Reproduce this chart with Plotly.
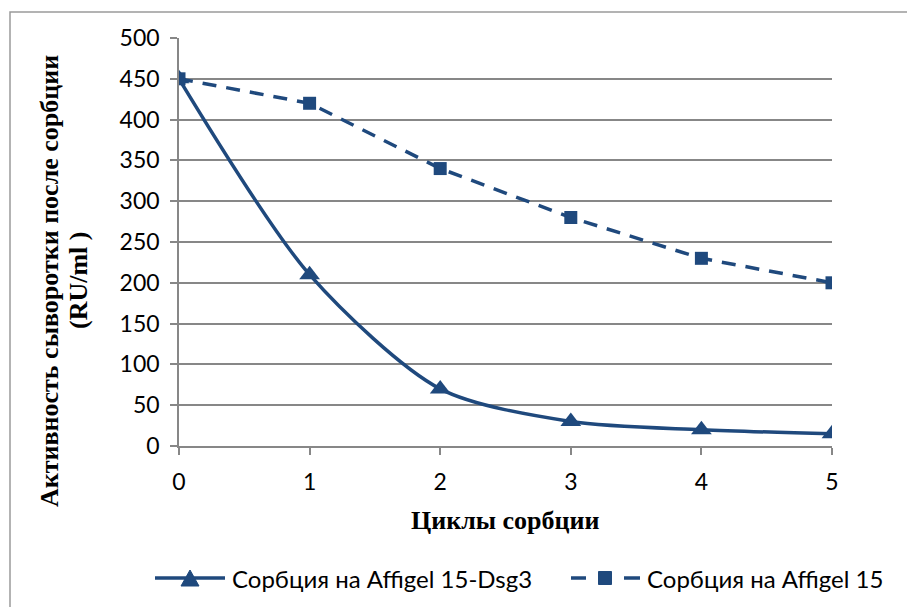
import plotly.graph_objects as go

# Sorption cycles and serum activity (RU/ml) after each cycle
cycles = [0, 1, 2, 3, 4, 5]
dsg3_values = [450, 210, 70, 30, 20, 15]
affigel_values = [450, 420, 340, 280, 230, 200]
y_ticks = [0, 50, 100, 150, 200, 250, 300, 350, 400, 450, 500]

series_names = ["Сорбция на Affigel 15-Dsg3", "Сорбция на Affigel 15"]
x_title = "Циклы сорбции"
y_title_lines = ["Активность сыворотки после сорбции", "(RU/ml )"]

line_color = "#1F497D"
grid_color = "#878787"
tick_font = dict(family="Lato, Open Sans, sans-serif", size=23, color="#000000")
legend_font = dict(family="Lato, Open Sans, sans-serif", size=24, color="#000000")
title_font = dict(family="Liberation Serif, Times New Roman, serif", size=26, color="#000000")

W, H = 907, 607
L, R, T, B = 179, 75, 38, 161
pw, ph = W - L - R, H - T - B

fig = go.Figure()
fig.add_trace(go.Scatter(
    x=cycles, y=dsg3_values, name=series_names[0], mode="lines+markers",
    line=dict(color=line_color, width=3.5, shape="spline", smoothing=0.8),
    marker=dict(symbol="triangle-up", size=18, color=line_color),
))
fig.add_trace(go.Scatter(
    x=cycles, y=affigel_values, name=series_names[1], mode="lines+markers",
    line=dict(color=line_color, width=3.5, dash="14px,10px"),
    marker=dict(symbol="square", size=13, color=line_color),
))

def px_x(p):
    return (p - L) / pw

def px_y(p):
    return (T + ph - p) / ph

# Outer chart border
fig.add_shape(type="rect", xref="paper", yref="paper",
              x0=px_x(10), x1=px_x(W + 20), y0=px_y(H + 20), y1=px_y(12),
              line=dict(color="#9a9a9a", width=1.5), fillcolor="rgba(0,0,0,0)", layer="below")

# Two-line vertical axis title
for text, xc in zip(y_title_lines, [49, 78]):
    fig.add_annotation(text=f"<b>{text}</b>", xref="paper", yref="paper",
                       x=px_x(xc), y=px_y(281), textangle=-90, showarrow=False,
                       font=title_font, xanchor="center", yanchor="middle")

fig.add_annotation(text=f"<b>{x_title}</b>", xref="paper", yref="paper",
                   x=px_x(506), y=px_y(520), showarrow=False, font=title_font,
                   xanchor="center", yanchor="middle")

# Legend drawn below the axis: line sample, marker glyph and label for each series
ly = 578

def seg(x0, x1, dash="solid"):
    fig.add_shape(type="line", xref="paper", yref="paper",
                  x0=px_x(x0), x1=px_x(x1), y0=px_y(ly), y1=px_y(ly),
                  line=dict(color=line_color, width=3.5, dash=dash))

# solid series sample with triangle
seg(155, 225)
tx, tw, th = 190, 18, 16
fig.add_shape(type="path", xref="paper", yref="paper",
              path=(f"M {px_x(tx - tw / 2)} {px_y(ly + th / 2)} "
                    f"L {px_x(tx + tw / 2)} {px_y(ly + th / 2)} "
                    f"L {px_x(tx)} {px_y(ly - th / 2)} Z"),
              fillcolor=line_color, line=dict(color=line_color, width=1))
fig.add_annotation(text=series_names[0], xref="paper", yref="paper",
                   x=px_x(230), y=px_y(ly), xanchor="left", yanchor="middle",
                   showarrow=False, font=legend_font)

# dashed series sample with square
seg(571, 586)
seg(624, 640)
sx, ss = 605, 13
fig.add_shape(type="rect", xref="paper", yref="paper",
              x0=px_x(sx - ss / 2), x1=px_x(sx + ss / 2),
              y0=px_y(ly + ss / 2), y1=px_y(ly - ss / 2),
              fillcolor=line_color, line=dict(color=line_color, width=1))
fig.add_annotation(text=series_names[1], xref="paper", yref="paper",
                   x=px_x(645), y=px_y(ly), xanchor="left", yanchor="middle",
                   showarrow=False, font=legend_font)

fig.update_layout(
    width=W, height=H,
    margin=dict(l=L, r=R, t=T, b=B),
    paper_bgcolor="white", plot_bgcolor="white",
    showlegend=False,
    xaxis=dict(range=[0, 5], tickvals=cycles, showgrid=False, zeroline=False,
               showline=True, linecolor=grid_color, linewidth=1.5,
               ticks="outside", ticklen=7, tickcolor=grid_color, tickwidth=1.5,
               tickfont=tick_font, fixedrange=True),
    yaxis=dict(range=[0, 500], tickvals=y_ticks, showgrid=True, gridcolor=grid_color, gridwidth=1.5,
               zeroline=False, showline=True, linecolor=grid_color, linewidth=1.5,
               ticks="outside", ticklen=7, tickcolor=grid_color, tickwidth=1.5,
               tickfont=tick_font, fixedrange=True),
)

fig.update_xaxes(ticklabelstandoff=8)
fig.update_yaxes(ticklabelstandoff=6)

fig.write_html("out.html")
